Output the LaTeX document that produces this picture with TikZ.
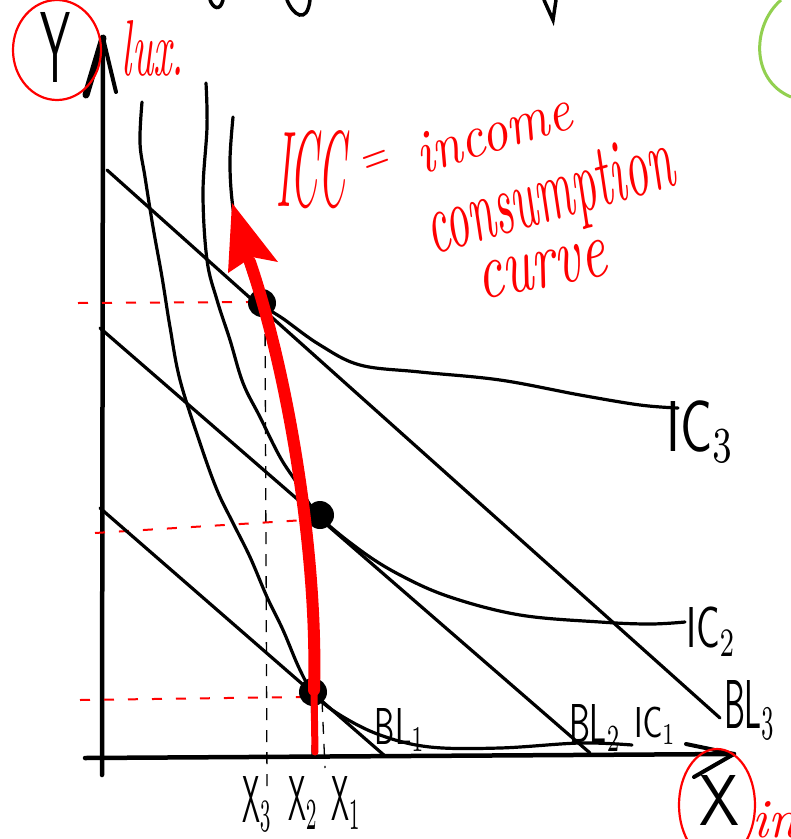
\documentclass[tikz,border=0pt]{standalone}
\usepackage{graphicx}
\definecolor{penred}{RGB}{255,0,0}
\definecolor{pengreen}{RGB}{146,208,80}
\begin{document}
\begin{tikzpicture}[x=1pt,y=-1pt,
  icstyle/.style={line width=3.2pt, black, line cap=round, line join=round},
  bline/.style={line width=3.2pt, black, line cap=round},
  axisline/.style={line width=4.5pt, black, line cap=round},
  reddash/.style={penred, line width=2pt, dash pattern=on 10pt off 14pt},
  blackdash/.style={black, line width=1.3pt, dash pattern=on 12pt off 10pt},
  eqdot/.style={circle, fill=black, inner sep=0pt, minimum size=28pt},
  lbl/.style={inner sep=0pt, black},
  rlbl/.style={inner sep=0pt, penred}]
\useasboundingbox (0,0) rectangle (791,839);
\fill[white] (0,0) rectangle (791,839);

% cut-off strokes at the top
\draw[line width=3.5pt, line cap=round] (210,0) .. controls (213,8) and (220,12) .. (223,0);
\draw[line width=3.5pt, line cap=round] (287,0) .. controls (293,15) and (307,25) .. (310,0);
\draw[line width=3.5pt, line cap=round] (544,0) -- (553,20) -- (556,0);
\draw[pengreen, line width=3pt] (781,0) .. controls (752,25) and (750,80) .. (791,97);

% axes
\coordinate (ytop) at (103,38);
\coordinate (ybot) at (102,775);
\coordinate (xl) at (85,758);
\coordinate (xr) at (734,754);
\draw[axisline] (ybot) -- (ytop);
\draw[line width=7pt, line cap=round] (ytop) -- (86,95);
\draw[line width=4pt, line cap=round] (ytop) -- (116,92);
\draw[axisline] (xl) -- (xr);
\draw[line width=4pt, line cap=round] (xr) -- (686,744);
\draw[line width=4pt, line cap=round] (xr) -- (694,777);

% dashed guides
\draw[blackdash] (265,312) -- (267,787);
\draw[blackdash] (310,525) -- (312,755);
\draw[blackdash] (322,700) -- (325,768);
\draw[reddash] (78,303) -- (255,302);
\draw[reddash] (95,533) -- (305,520);
\draw[reddash] (80,700) -- (300,697);

% budget lines
\coordinate (b3a) at (107,170); \coordinate (b3b) at (720,718);
\coordinate (b2a) at (100,328); \coordinate (b2b) at (590,753);
\coordinate (b1a) at (100,508); \coordinate (b1b) at (385,756);
\draw[bline] (b3a) -- (b3b);
\draw[bline] (b2a) -- (b2b);
\draw[bline] (b1a) -- (b1b);

% indifference curves
\draw[icstyle] plot[smooth, tension=0.6] coordinates {(142,102) (140,143) (145,177) (153,227) (162,277) (170,327) (180,380) (200,443) (217,490) (233,523) (250,557) (267,597) (283,630) (300,670) (315,695) (340,715) (380,735) (430,747) (500,748) (580,743) (632,745)};
\draw[icstyle] plot[smooth, tension=0.6] coordinates {(206,83) (207,127) (203,193) (207,260) (217,300) (230,340) (243,383) (260,417) (280,457) (297,483) (318,515) (360,550) (400,575) (450,597) (520,615) (600,622) (650,624) (685,622)};
\draw[icstyle] plot[smooth, tension=0.6] coordinates {(233,117) (230,160) (232,200) (238,235) (250,275) (262,303) (285,320) (320,345) (360,365) (420,372) (500,380) (580,395) (640,405) (678,408)};

% equilibrium points
\node[eqdot] (e3) at (262,303) {};
\node[eqdot] (e2) at (320,515) {};
\node[eqdot] (e1) at (313,692) {};

% ICC arrow
\coordinate (iccbot) at (315,752);
\coordinate (iccmid) at (314,690);
\coordinate (icctop) at (250,262);
\draw[penred, line width=7pt, line cap=round] (iccbot) -- (iccmid);
\draw[penred, line width=12pt, line cap=round] (iccmid) .. controls (318,560) and (290,380) .. (icctop);
\fill[penred] (232,203) -- (278,262) -- (252,257) -- (228,273) -- cycle;

% red annotations
\draw[penred, line width=2.2pt] (57,50) ellipse [x radius=44, y radius=50];
\draw[penred, line width=2.2pt] (717,805) ellipse [x radius=38, y radius=56];
\node[rlbl] (lux) at (153,48) {\resizebox{62pt}{55pt}{\itshape lux.}};
\node[rlbl, anchor=west] (inlbl) at (752,820) {\resizebox{45pt}{36pt}{\itshape in}};
\node[rlbl] (icc) at (311,170) {\resizebox{70pt}{76pt}{\itshape ICC}};
\node[rlbl, rotate=20] (eq) at (377,162) {\resizebox{27pt}{18pt}{$=$}};
\node[rlbl, rotate=17] (income) at (493,132) {\resizebox{160pt}{40pt}{\itshape income}};
\node[rlbl, rotate=16] (consumption) at (550,200) {\resizebox{255pt}{58pt}{\itshape consumption}};
\node[rlbl, rotate=11] (curvelbl) at (542,270) {\resizebox{130pt}{36pt}{\itshape curve}};

% black labels
\node[lbl] (ylbl) at (55,47) {\resizebox{30pt}{70pt}{\sffamily Y}};
\node[lbl] (xlbl) at (720,800) {\resizebox{40pt}{50pt}{\sffamily X}};
\node[lbl] (x3) at (257,804) {\resizebox{30pt}{46pt}{$\mathsf{X}_3$}};
\node[lbl] (x2) at (303,803) {\resizebox{30pt}{44pt}{$\mathsf{X}_2$}};
\node[lbl] (x1) at (346,803) {\resizebox{30pt}{44pt}{$\mathsf{X}_1$}};
\node[lbl] (ic3) at (701,432) {\resizebox{68pt}{50pt}{$\mathsf{IC}_3$}};
\node[lbl] (ic2) at (711,632) {\resizebox{50pt}{40pt}{$\mathsf{IC}_2$}};
\node[lbl] (ic1) at (655,726) {\resizebox{42pt}{30pt}{$\mathsf{IC}_1$}};
\node[lbl] (bl3) at (750,710) {\resizebox{52pt}{48pt}{$\mathsf{BL}_3$}};
\node[lbl] (bl2) at (595,728) {\resizebox{52pt}{38pt}{$\mathsf{BL}_2$}};
\node[lbl] (bl1) at (400,730) {\resizebox{50pt}{36pt}{$\mathsf{BL}_1$}};
\end{tikzpicture}
\end{document}
